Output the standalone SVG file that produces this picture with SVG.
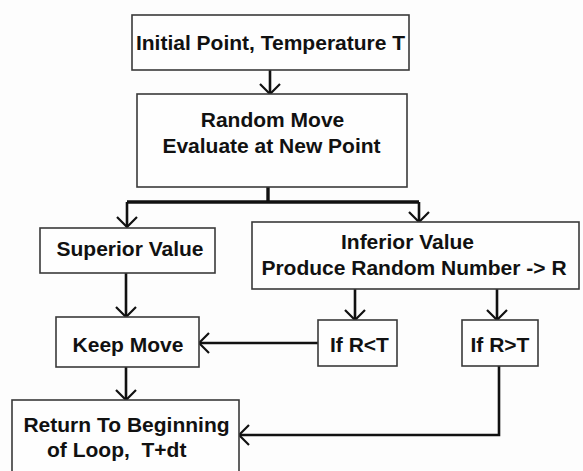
<svg xmlns="http://www.w3.org/2000/svg" width="583" height="471" viewBox="0 0 583 471">
<style>
.box{fill:#fefefe;stroke:#3a3a3a;stroke-width:1.6}
.t{font-family:"Liberation Sans",Arial,sans-serif;font-weight:bold;font-size:21px;fill:#111;text-anchor:middle}
.ln{fill:none;stroke:#111;stroke-width:2.6}
.thick{stroke-width:3.4}
</style>
<defs>
<marker id="ah" viewBox="0 0 12 22" refX="11" refY="11" markerWidth="12" markerHeight="22" markerUnits="userSpaceOnUse" orient="auto">
<path d="M1,1 L11,11 L1,21" fill="none" stroke="#111" stroke-width="2.2"/>
</marker>
</defs>
<rect width="583" height="471" fill="#fdfdfd"/>
<g id="connectors">
<path class="ln" d="M270,70 V94" marker-end="url(#ah)"/>
<path class="ln thick" d="M268,187 V202"/>
<path class="ln thick" d="M127,202 H419"/>
<path class="ln" d="M127,202 V227" marker-end="url(#ah)"/>
<path class="ln" d="M419,202 V222" marker-end="url(#ah)"/>
<path class="ln" d="M126,273 V317" marker-end="url(#ah)"/>
<path class="ln" d="M355,289 V320" marker-end="url(#ah)"/>
<path class="ln" d="M497,289 V320" marker-end="url(#ah)"/>
<path class="ln" d="M318,343 H199" marker-end="url(#ah)"/>
<path class="ln" d="M126,367 V400" marker-end="url(#ah)"/>
<path class="ln" d="M499,366 V435 H239" marker-end="url(#ah)"/>
</g>
<g id="n1">
<rect class="box" x="132" y="15" width="277" height="55"/>
<text class="t" x="270.5" y="50">Initial Point, Temperature T</text>
</g>
<g id="n2">
<rect class="box" x="137" y="94" width="270" height="93"/>
<text class="t" x="272.5" y="127">Random Move</text>
<text class="t" x="271.5" y="153">Evaluate at New Point</text>
</g>
<g id="n3">
<rect class="box" x="40" y="228" width="175" height="45"/>
<text class="t" x="130" y="256">Superior Value</text>
</g>
<g id="n4">
<rect class="box" x="252" y="222" width="327" height="67"/>
<text class="t" x="407.5" y="249">Inferior Value</text>
<text class="t" x="414" y="275">Produce Random Number -&gt; R</text>
</g>
<g id="n5">
<rect class="box" x="56" y="317" width="143" height="50"/>
<text class="t" x="128" y="352">Keep Move</text>
</g>
<g id="n6">
<rect class="box" x="318" y="320" width="79" height="46"/>
<text class="t" x="359.5" y="352">If R&lt;T</text>
</g>
<g id="n7">
<rect class="box" x="462" y="320" width="76" height="46"/>
<text class="t" x="500" y="352">If R&gt;T</text>
</g>
<g id="n8">
<rect class="box" x="12" y="400" width="227" height="80"/>
<text class="t" x="126.5" y="432">Return To Beginning</text>
<text class="t" x="47" y="457" style="text-anchor:start;white-space:pre">of Loop,  T+dt</text>
</g>
</svg>
